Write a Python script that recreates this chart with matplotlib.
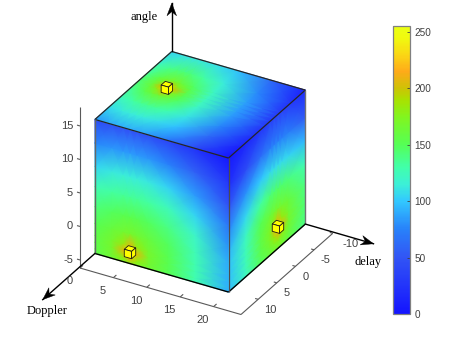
import numpy as np
import matplotlib
matplotlib.use('Agg')
import matplotlib.pyplot as plt
from matplotlib.colors import LinearSegmentedColormap
from matplotlib.patches import Polygon

# cube extents
doppler_min, doppler_max = 0, 20
delay_min, delay_max = -10, 10.6
angle_min, angle_max = -6, 14

# axis box
doppler_axis = [0, 24.1]
delay_axis = [-10, 14.6]
angle_axis = [-6.2, 17.8]

doppler_ticks = [0, 5, 10, 15, 20]
delay_ticks = [-10, -5, 0, 5, 10]
angle_ticks = [-5, 0, 5, 10, 15]
cbar_ticks = [0, 50, 100, 150, 200, 250]

# power (rows run from low to high)
front_doppler = [0, 2.5, 4.2, 5.25, 6.3, 8, 11, 15, 20]
front_angle = [-6, -5.3, -4.3, -3.3, -1.5, 1, 4, 7, 10.5, 14]
front_values = [[153, 165, 172, 178, 172, 165, 150, 128, 90],
                [155, 167, 182, 205, 182, 167, 151, 128, 91],
                [155, 168, 205, 235, 205, 168, 152, 128, 91],
                [155, 167, 182, 205, 182, 167, 151, 128, 91],
                [150, 160, 166, 168, 166, 160, 148, 126, 89],
                [141, 148, 152, 153, 152, 148, 139, 120, 80],
                [126, 132, 134, 134, 134, 132, 124, 105, 68],
                [105, 112, 114, 114, 114, 112, 104, 84, 48],
                [76, 82, 83, 84, 83, 82, 74, 56, 26],
                [42, 46, 46, 46, 46, 44, 38, 24, 2]]

right_delay = [10.6, 6, 2, -0.5, -1.6, -2.66, -3.7, -5.5, -10]
right_angle = [-6, -4.8, -3.8, -2.8, -1.8, 0, 3, 6.5, 10, 14]
right_values = [[95, 122, 148, 160, 163, 165, 163, 158, 138],
                [97, 124, 152, 165, 172, 178, 172, 162, 140],
                [97, 125, 154, 170, 184, 205, 184, 166, 141],
                [97, 125, 155, 172, 205, 235, 205, 168, 142],
                [97, 125, 154, 170, 184, 205, 184, 166, 141],
                [93, 122, 150, 162, 166, 168, 166, 160, 139],
                [78, 106, 132, 142, 144, 145, 144, 141, 126],
                [50, 80, 100, 106, 107, 108, 107, 105, 94],
                [20, 42, 64, 72, 75, 75, 75, 72, 52],
                [3, 14, 26, 34, 36, 36, 36, 32, 16]]

top_doppler = [0, 2, 3.1, 4.1, 5.1, 7, 10, 15, 20]
top_delay = [-10, -6, -3.2, -2.35, -1.35, -0.35, 1, 4, 7, 10.6]
top_values = [[104, 109, 111, 111, 111, 108, 97, 60, 10],
              [125, 137, 141, 142, 141, 132, 114, 78, 23],
              [136, 156, 165, 170, 165, 148, 122, 85, 28],
              [140, 160, 178, 200, 178, 152, 123, 85, 29],
              [142, 163, 200, 235, 200, 154, 123, 85, 29],
              [140, 160, 178, 200, 178, 152, 123, 85, 29],
              [135, 152, 160, 164, 160, 146, 121, 84, 28],
              [122, 131, 134, 135, 134, 128, 111, 76, 21],
              [106, 112, 113, 114, 113, 109, 98, 61, 11],
              [82, 88, 90, 90, 90, 87, 75, 39, 0]]

# small cubes: doppler, delay, angle
marker_doppler = [4.1, 5.25, 20]
marker_delay = [-1.35, 10.6, -2.66]
marker_angle = [14, -4.3, -2.8]

cmap_values = [0, 50, 75, 100, 115, 130, 150, 175, 190, 200, 215, 230, 245, 255]
cmap_colors = [(20, 20, 255), (50, 85, 245), (40, 130, 250), (50, 200, 255),
               (60, 240, 215), (65, 255, 170), (85, 255, 85), (130, 245, 30),
               (170, 225, 0), (205, 195, 5), (255, 170, 25), (250, 215, 20),
               (240, 250, 15), (235, 255, 20)]


def project(d, t, a):
    # orthographic view of the cube, in picture pixels
    d, t, a = np.asarray(d, float), np.asarray(t, float), np.asarray(a, float)
    x = 80 + d * 6.68 + (14.6 - t) * 3.73
    y = 268 + d * 1.93 - (14.6 - t) * 3.3 - (a + 6.2) * 6.7
    return x, y


def line3(ax, p0, p1, **kw):
    x0, y0 = project(*p0)
    x1, y1 = project(*p1)
    ax.plot([x0, x1], [y0, y1], solid_capstyle='butt', **kw)


def arrow(ax, p0, p1):
    x0, y0 = project(*p0)
    x1, y1 = project(*p1)
    ax.plot([x0, x1], [y0, y1], color='k', lw=1.0, zorder=6)
    v = np.array([x1 - x0, y1 - y0])
    v = v / np.hypot(*v)
    n = np.array([-v[1], v[0]])
    tip = np.array([x1, y1])
    head = [tip, tip - 12.5 * v + 4.8 * n, tip - 8.5 * v, tip - 12.5 * v - 4.8 * n]
    ax.add_patch(Polygon(head, closed=True, fc='k', ec='k', lw=0.3, zorder=7))


cmap = LinearSegmentedColormap.from_list(
    'cube', [(v / 255, tuple(c / 255 for c in col))
             for v, col in zip(cmap_values, cmap_colors)], N=256)

fig = plt.figure(figsize=(4.71, 3.53), dpi=100)
ax = fig.add_axes([0, 0, 1, 1])
ax.set_xlim(0, 471)
ax.set_ylim(353, 0)
ax.set_axis_off()

# cube faces
D, A = np.meshgrid(front_doppler, front_angle)
X, Y = project(D, np.full(D.shape, delay_max), A)
mesh = ax.pcolormesh(X, Y, np.array(front_values), shading='gouraud', cmap=cmap,
                     vmin=0, vmax=255, zorder=2)

T, A = np.meshgrid(right_delay, right_angle)
X, Y = project(np.full(T.shape, doppler_max), T, A)
ax.pcolormesh(X, Y, np.array(right_values), shading='gouraud', cmap=cmap,
              vmin=0, vmax=255, zorder=2)

D, T = np.meshgrid(top_doppler, top_delay)
X, Y = project(D, T, np.full(D.shape, angle_max))
ax.pcolormesh(X, Y, np.array(top_values), shading='gouraud', cmap=cmap,
              vmin=0, vmax=255, zorder=2)

# cube edges
dark = {'color': '0.15', 'lw': 0.9, 'zorder': 4}
line3(ax, (doppler_min, delay_max, angle_max), (doppler_max, delay_max, angle_max), **dark)
line3(ax, (doppler_max, delay_max, angle_max), (doppler_max, delay_min, angle_max), **dark)
line3(ax, (doppler_max, delay_min, angle_max), (doppler_min, delay_min, angle_max), **dark)
line3(ax, (doppler_min, delay_min, angle_max), (doppler_min, delay_max, angle_max), **dark)
line3(ax, (doppler_min, delay_max, angle_min), (doppler_max, delay_max, angle_min), color='k', lw=1.0, zorder=4)
line3(ax, (doppler_max, delay_max, angle_min), (doppler_max, delay_min, angle_min), color='k', lw=1.0, zorder=4)
line3(ax, (doppler_min, delay_max, angle_min), (doppler_min, delay_max, angle_max), color='0.4', lw=1.0, zorder=4)
line3(ax, (doppler_max, delay_max, angle_min), (doppler_max, delay_max, angle_max), color='0.3', lw=0.9, zorder=4)
line3(ax, (doppler_max, delay_min, angle_min), (doppler_max, delay_min, angle_max), color='0.45', lw=1.0, zorder=4)

# axis box
grey = {'color': '0.35', 'lw': 0.8, 'zorder': 1}
line3(ax, (doppler_axis[0], delay_axis[1], angle_axis[0]), (doppler_axis[0], delay_axis[1], angle_axis[1]), **grey)
line3(ax, (doppler_axis[0], delay_axis[1], angle_axis[0]), (doppler_axis[1], delay_axis[1], angle_axis[0]), **grey)
line3(ax, (doppler_axis[1], delay_axis[1], angle_axis[0]), (doppler_axis[1], delay_axis[0], angle_axis[0]), **grey)

tick_font = {'family': 'Liberation Sans', 'fontsize': 8, 'color': '0.25',
             'ha': 'center', 'va': 'center', 'zorder': 8}
for a in angle_ticks:
    line3(ax, (doppler_axis[0], delay_axis[1], a), (doppler_axis[0] - 0.45, delay_axis[1], a), **grey)
    x, y = project(doppler_axis[0], delay_axis[1], a)
    ax.text(x - 7, y, str(a), **{**tick_font, 'ha': 'right'})
for d in doppler_ticks:
    line3(ax, (d, delay_axis[1], angle_axis[0]), (d, delay_axis[1] - 0.8, angle_axis[0]), **grey)
    x, y = project(d, delay_axis[1], angle_axis[0])
    ax.text(x - 10.5, y + 13.5, str(d), **tick_font)
delay_label_dx = [17.7, 11.3, 10, 10, 12]
for t, dx in zip(delay_ticks, delay_label_dx):
    line3(ax, (doppler_axis[1], t, angle_axis[0]), (doppler_axis[1] - 0.45, t, angle_axis[0]), **grey)
    x, y = project(doppler_axis[1], t, angle_axis[0])
    ax.text(x + dx, y + 10.3, str(t), **tick_font)

# arrows coming out of the cube
arrow(ax, (doppler_min, delay_max, angle_min), (doppler_min, 24.6, angle_min))
arrow(ax, (doppler_max, delay_min, angle_min), (30.2, delay_min, angle_min))
arrow(ax, (doppler_min, delay_min, angle_max), (doppler_min, delay_min, 21.2))

label_font = {'family': 'Liberation Serif', 'fontsize': 9, 'color': 'k',
              'ha': 'center', 'va': 'center', 'zorder': 8}
ax.text(144.5, 17, 'angle', **label_font)
ax.text(47, 311, 'Doppler', **label_font)
ax.text(368, 261.5, 'delay', **label_font)

# small yellow cubes
for d, t, a in zip(marker_doppler, marker_delay, marker_angle):
    s = 0.55
    corners = {
        'top': [(d - s, t - s, a + s), (d + s, t - s, a + s), (d + s, t + s, a + s), (d - s, t + s, a + s)],
        'front': [(d - s, t + s, a + s), (d + s, t + s, a + s), (d + s, t + s, a - s), (d - s, t + s, a - s)],
        'right': [(d + s, t + s, a + s), (d + s, t - s, a + s), (d + s, t - s, a - s), (d + s, t + s, a - s)],
    }
    for face in corners.values():
        xs, ys = project(*np.array(face).T)
        ax.add_patch(Polygon(np.column_stack([xs, ys]), closed=True, fc=(1, 1, 0),
                             ec='0.1', lw=0.6, zorder=5))

# colorbar
cax = fig.add_axes([393 / 471, 1 - 314 / 353, 17 / 471, 288 / 353])
cb = fig.colorbar(mesh, cax=cax, ticks=cbar_ticks)
cb.outline.set_edgecolor('0.5')
cb.outline.set_linewidth(0.9)
cax.tick_params(direction='in', length=2.5, width=0.6, color='0.25', pad=3,
                labelsize=7.2, labelcolor='0.25')
for lab in cax.get_yticklabels():
    lab.set_family('Liberation Sans')

fig.savefig('out.png', dpi=100)
